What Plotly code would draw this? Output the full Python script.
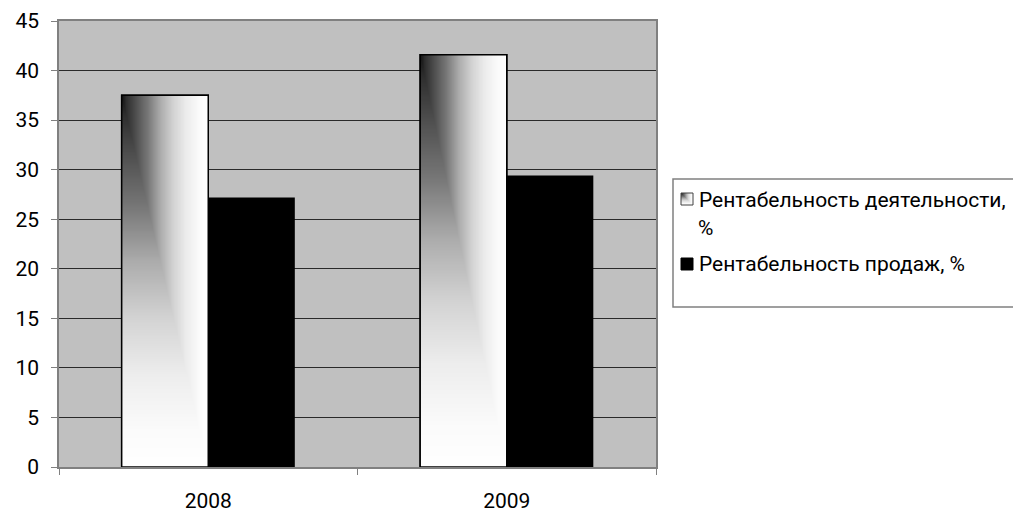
import base64
import struct
import zlib

import numpy as np
import plotly.graph_objects as go

# ---- data -------------------------------------------------------------
years = ["2008", "2009"]
activity_profitability = [37.5, 41.6]   # Рентабельность деятельности, %
sales_profitability = [27.2, 29.4]      # Рентабельность продаж, %
series_names = ["Рентабельность деятельности,", "%", "Рентабельность продаж, %"]
y_ticks = [0, 5, 10, 15, 20, 25, 30, 35, 40, 45]

# ---- geometry / style -------------------------------------------------
W, H = 1013, 512
PX0, PX1, PY0, PY1 = 59, 656, 21, 467          # plot area in pixels
BAR_GAP = 0.42
BAR_W = (1 - BAR_GAP) / 2                      # width of one bar in category units
FONT = "Roboto"
PLOT_BG = "#c0c0c0"
BORDER = "#808080"


def px(x):
    return (x - PX0) / (PX1 - PX0)


def py(y):
    return (PY1 - y) / (PY1 - PY0)


def gradient_png(w, h):
    """Corner gradient: dark at top-left, fading to white right and down."""
    u = np.linspace(0, 1, w)[None, :]
    v = np.linspace(0, 1, h)[:, None]
    t = np.maximum(u, v)
    stops_t = [0.0, 0.05, 0.15, 0.3, 0.45, 0.6, 0.75, 0.9, 1.0]
    stops_v = [0.08, 0.18, 0.3, 0.47, 0.68, 0.83, 0.93, 0.985, 1.0]
    img = (np.interp(t, stops_t, stops_v) * 255).astype(np.uint8)
    raw = b"".join(b"\x00" + img[r].tobytes() for r in range(h))

    def chunk(tag, data):
        body = tag + data
        return struct.pack(">I", len(data)) + body + struct.pack(">I", zlib.crc32(body) & 0xFFFFFFFF)

    png = (b"\x89PNG\r\n\x1a\n"
           + chunk(b"IHDR", struct.pack(">IIBBBBB", w, h, 8, 0, 0, 0, 0))
           + chunk(b"IDAT", zlib.compress(raw, 9))
           + chunk(b"IEND", b""))
    return "data:image/png;base64," + base64.b64encode(png).decode()


BAR_GRAD = gradient_png(100, 400)
ICON_GRAD = gradient_png(40, 40)

fig = go.Figure()
fig.add_trace(go.Bar(
    x=years, y=activity_profitability, name=series_names[0] + " " + series_names[1],
    marker=dict(color="white", line=dict(color="black", width=1.5)),
    showlegend=False,
))
fig.add_trace(go.Bar(
    x=years, y=sales_profitability, name=series_names[2],
    marker=dict(color="black", line=dict(width=0)),
    showlegend=False,
))

# gradient fill + outline over each "activity" bar, sized from its value
images = []
shapes = []
for i, val in enumerate(activity_profitability):
    images.append(dict(
        source=BAR_GRAD, xref="x", yref="y",
        x=i - BAR_W, y=val, sizex=BAR_W, sizey=val,
        xanchor="left", yanchor="top", sizing="stretch", layer="above",
    ))
    shapes.append(dict(
        type="rect", xref="x", yref="y",
        x0=i - BAR_W, x1=i, y0=0, y1=val,
        line=dict(color="black", width=1.5), fillcolor="rgba(0,0,0,0)",
    ))

# legend box
shapes.append(dict(
    type="rect", xref="paper", yref="paper",
    x0=px(673), x1=px(1030), y0=py(307), y1=py(179),
    line=dict(color=BORDER, width=1.5), fillcolor="white", layer="below",
))
# legend swatches
images.append(dict(
    source=ICON_GRAD, xref="paper", yref="paper",
    x=px(681), y=py(193), sizex=px(693) - px(681), sizey=py(193) - py(205),
    xanchor="left", yanchor="top", sizing="stretch", layer="above",
))
shapes.append(dict(
    type="rect", xref="paper", yref="paper",
    x0=px(681), x1=px(693), y0=py(205), y1=py(193),
    line=dict(color="#404040", width=1), fillcolor="rgba(0,0,0,0)",
))
shapes.append(dict(
    type="rect", xref="paper", yref="paper",
    x0=px(681), x1=px(693), y0=py(270), y1=py(258),
    line=dict(color="black", width=1), fillcolor="black",
))

legend_font = dict(family=FONT, size=21, color="black")
annotations = [
    dict(text=series_names[0], x=px(697), y=py(199.5)),
    dict(text=series_names[1], x=px(696), y=py(228)),
    dict(text=series_names[2], x=px(697), y=py(264)),
]
for a in annotations:
    a.update(xref="paper", yref="paper", xanchor="left", yanchor="middle",
             showarrow=False, font=legend_font)

fig.update_layout(
    width=W, height=H,
    margin=dict(l=PX0, r=W - PX1, t=PY0, b=H - PY1, pad=0),
    paper_bgcolor="white",
    plot_bgcolor=PLOT_BG,
    barmode="group",
    bargap=BAR_GAP,
    bargroupgap=0,
    images=images,
    shapes=shapes,
    annotations=annotations,
    font=dict(family=FONT, size=21, color="black"),
)
fig.update_xaxes(
    type="category",
    automargin=False,
    showgrid=False,
    showline=True, linecolor=BORDER, linewidth=1.5, mirror=True,
    ticks="outside", tickson="boundaries", ticklen=6, tickcolor=BORDER,
    ticklabelstandoff=14,
    tickfont=dict(family=FONT, size=21, color="black"),
)
fig.update_yaxes(
    automargin=False,
    range=[0, 45], tickvals=y_ticks,
    showgrid=True, gridcolor="#2a2a2a", gridwidth=1,
    zeroline=False,
    showline=True, linecolor=BORDER, linewidth=1.5, mirror=True,
    ticks="outside", ticklen=6, tickcolor=BORDER,
    ticklabelstandoff=8,
    tickfont=dict(family=FONT, size=21, color="black"),
)

fig.write_html("out.html")
